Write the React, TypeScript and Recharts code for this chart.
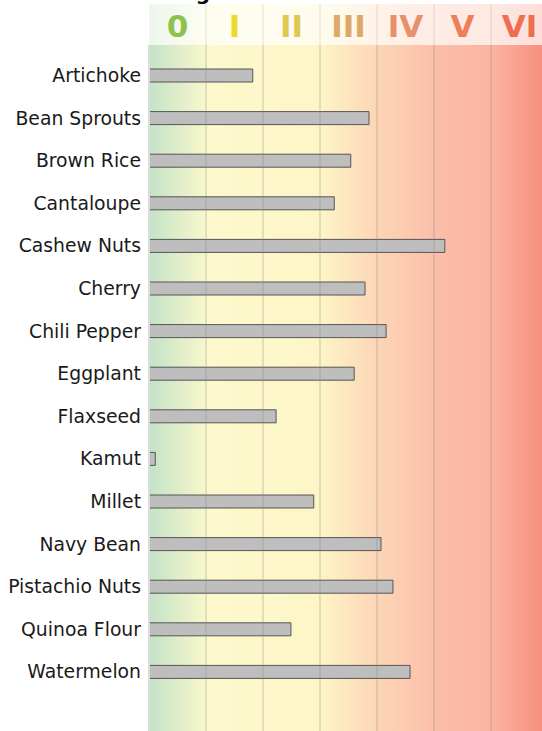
import React from 'react';
import { BarChart, Bar, XAxis, YAxis, CartesianGrid, ReferenceLine } from 'recharts';

const foods = [
  'Artichoke', 'Bean Sprouts', 'Brown Rice', 'Cantaloupe', 'Cashew Nuts',
  'Cherry', 'Chili Pepper', 'Eggplant', 'Flaxseed', 'Kamut',
  'Millet', 'Navy Bean', 'Pistachio Nuts', 'Quinoa Flour', 'Watermelon'
];
const scores = [
  1.82, 3.86, 3.54, 3.25, 5.19,
  3.79, 4.16, 3.6, 2.23, 0.11,
  2.89, 4.07, 4.28, 2.49, 4.58
];
const levels = ['0', 'I', 'II', 'III', 'IV', 'V', 'VI'];
const levelColors = ['#8cc34e', '#e8dc2c', '#dcc855', '#dcaa66', '#e8906c', '#ee7e5c', '#f06e50'];
const levelCenters = [0.5, 1.5, 2.5, 3.5, 4.5, 5.5, 6.5];
const dividers = [1, 2, 3, 4, 5, 6];

const data = foods.map((name, i) => ({ name, score: scores[i] }));

// layout
const CHART_W = 560;
const CHART_H = 780;
const AXIS_W = 149;
const COL = 57;
const HEADER_TOP = 34;
const HEADER_H = 41;

const HeaderTick = (props: any) => {
  const { x, index } = props;
  return (
    <g>
      <rect x={x - COL / 2} y={HEADER_TOP} width={COL} height={HEADER_H} fill="url(#bgGrad)" />
      <rect x={x - COL / 2} y={HEADER_TOP} width={COL} height={HEADER_H} fill="#fff" fillOpacity={0.7} />
      {index > 0 && (
        <line x1={x - COL / 2} x2={x - COL / 2} y1={HEADER_TOP} y2={HEADER_TOP + HEADER_H}
          stroke="rgba(140,140,140,0.12)" strokeWidth={2} />
      )}
      <text x={x} y={HEADER_TOP + HEADER_H / 2 + 1} textAnchor="middle" dominantBaseline="central"
        fontFamily="DejaVu Sans" fontWeight="bold" fontSize={31} fill={levelColors[index]}>
        {levels[index]}
      </text>
    </g>
  );
};

export default function App() {
  return (
    <div style={{ position: 'absolute', left: 0, top: 0, width: 542, height: 731, overflow: 'hidden', background: '#fff' }}>
      <svg width={0} height={0} style={{ position: 'absolute' }}>
        <defs>
          <linearGradient id="bgGrad" gradientUnits="userSpaceOnUse" x1={AXIS_W} x2={AXIS_W + 7 * COL} y1={0} y2={0}>
            <stop offset={0} stopColor="#c3e3c7" />
            <stop offset={0.13} stopColor="#f4f5cb" />
            <stop offset={0.15} stopColor="#fdf9cc" />
            <stop offset={0.43} stopColor="#fdf5c6" />
            <stop offset={0.57} stopColor="#fdd6b6" />
            <stop offset={0.715} stopColor="#fcbea9" />
            <stop offset={0.86} stopColor="#fab4a0" />
            <stop offset={1} stopColor="#f78b77" />
          </linearGradient>
        </defs>
      </svg>
      <div style={{
        position: 'absolute', left: 0, top: -17, width: 210, textAlign: 'right',
        fontFamily: 'DejaVu Sans', fontWeight: 'bold', fontSize: 20, lineHeight: '20px', color: '#000'
      }}>
        Rating
      </div>
      <div style={{ position: 'absolute', left: 0, top: -30 }}>
        <BarChart
          width={CHART_W}
          height={CHART_H}
          data={data}
          layout="vertical"
          margin={{ top: HEADER_TOP, right: CHART_W - AXIS_W - 7 * COL, bottom: 5, left: 0 }}
        >
          <CartesianGrid horizontal={false} vertical={false} fill="url(#bgGrad)" fillOpacity={1} />
          <XAxis
            type="number"
            orientation="top"
            domain={[0, 7]}
            ticks={levelCenters}
            height={HEADER_H}
            axisLine={false}
            tickLine={false}
            tick={(p: any) => <HeaderTick {...p} />}
            interval={0}
          />
          <YAxis
            type="category"
            dataKey="name"
            width={AXIS_W}
            padding={{ top: 9, bottom: 52 }}
            axisLine={{ stroke: '#dcdcdc', strokeWidth: 2 }}
            tickLine={false}
            tickSize={0}
            tickMargin={8}
            interval={0}
            tick={{ fontFamily: 'DejaVu Sans', fontSize: 18.8, fill: '#1a1a1a' }}
          />
          {dividers.map((d) => (
            <ReferenceLine key={d} x={d} stroke="rgba(130,130,130,0.22)" strokeWidth={2} />
          ))}
          <Bar dataKey="score" barSize={13} fill="#bebebe" stroke="#555" strokeWidth={1} isAnimationActive={false} />
        </BarChart>
      </div>
    </div>
  );
}
